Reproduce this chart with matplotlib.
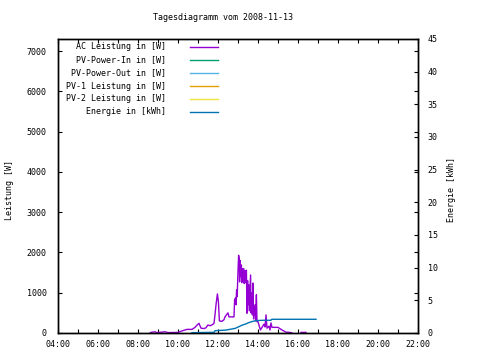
import numpy as np
import matplotlib
matplotlib.use("Agg")
import matplotlib.pyplot as plt

# AC power [W] over the day (hours); NaN marks a gap in the data
ac_time = [8.6, 8.65, 8.85, 8.95, 9.35, 9.5, 10.0, 10.25, 10.45, 10.7, 10.85, 11.0,
           11.05, 11.15, 11.3, 11.4, 11.5, 11.6, 11.7, 11.8, 11.85, 11.9, 11.97, 12.02,
           12.07, 12.2, 12.3, 12.35, 12.45, 12.5, 12.55, 12.8, 12.83, 12.85, 12.87, 12.9,
           12.93, 12.96, 12.99, 13.03, 13.06, 13.08, 13.1, 13.13, 13.17, 13.19, 13.22, 13.25,
           13.28, 13.31, 13.35, 13.38, 13.42, 13.45, 13.48, 13.5, 13.53, 13.56, 13.63, 13.65,
           13.68, 13.72, 13.75, 13.78, 13.85, 13.88, 13.92, 13.95, 14.0, 14.12, 14.2, 14.3,
           14.35, 14.4, 14.45, 14.55, 14.6, 14.65, 14.7, 15.0, 15.2, 15.4, 15.6, 15.7,
           15.9, 16.15, 16.4]
ac_power = [0, 15, 30, 10, 30, 10, 15, 60, 90, 90, 140, 220,
            240, 120, 110, 130, 200, 180, 200, 240, 450, 700, 970, 780,
            300, 290, 330, 400, 470, 500, 400, 400, 820, 720, 870, 700,
            1070, 900, 1400, 1930, 1850, 1270, 1800, 1400, 1690, 1250, 1600, 1300,
            1600, 1230, 1550, 1250, 1560, 490, 1300, 700, 1200, 550, 1440, 500,
            1000, 450, 1240, 350, 700, 300, 950, 280, 280, 75, 140, 220,
            150, 450, 120, 170, 75, 250, 140, 140, 75, 20, 15, 0,
            np.nan, 15, 15]

# Energy [kWh]
en_time = [10.7, 11.8, 11.85, 12.4, 12.85, 13.0, 13.2, 13.4, 13.55, 13.7, 13.9,
           14.3, 14.65, 14.68, 16.9]
en_kwh = [0.05, 0.1, 0.35, 0.45, 0.7, 0.9, 1.2, 1.4, 1.6, 1.75, 1.9,
          1.95, 1.95, 2.1, 2.1]

legend_labels = ["AC Leistung in [W]", "PV-Power-In in [W]", "PV-Power-Out in [W]",
                 "PV-1 Leistung in [W]", "PV-2 Leistung in [W]", "Energie in [kWh]"]
legend_colors = ["#9400d3", "#009e73", "#56b4e9", "#e69f00", "#f0e442", "#0072b2"]

x_ticks = list(range(4, 23, 2))
x_labels = [f"{h:02d}:00" for h in x_ticks]

plt.rcParams["font.family"] = "DejaVu Sans Mono"
plt.rcParams["font.size"] = 6

fig = plt.figure(figsize=(4.8, 3.6), dpi=100)
ax = fig.add_axes([58 / 480, 1 - 333 / 360, 360 / 480, 294 / 360])
ax2 = ax.twinx()

ax.plot(ac_time, ac_power, color=legend_colors[0], lw=1.0)
ax2.plot(en_time, en_kwh, color=legend_colors[5], lw=1.0)

ax.set_xlim(4, 22)
ax.set_ylim(0, 7300)
ax2.set_ylim(0, 45)
ax.set_xticks(x_ticks)
ax.set_xticklabels(x_labels)
ax.set_xticks(range(5, 22, 2), minor=True)
ax.set_yticks(range(0, 7001, 1000))
ax2.set_yticks(range(0, 46, 5))

ax.tick_params(axis="both", which="both", direction="in", top=True, right=True,
               length=3, width=0.8, labelright=False)
ax.tick_params(axis="y", pad=8)
ax.tick_params(axis="x", pad=5)
ax2.tick_params(axis="y", direction="in", length=3, width=0.8, pad=7)
for a in (ax, ax2):
    for s in a.spines.values():
        s.set_linewidth(1.0)

# legend drawn by hand: right-aligned text, sample line on the right
ys = [0.973, 0.929, 0.884, 0.840, 0.796, 0.752]
for lab, col, y in zip(legend_labels, legend_colors, ys):
    ax.text(0.30, y, lab, transform=ax.transAxes, ha="right", va="center")
    ax.plot([0.367, 0.444], [y, y], color=col, lw=1.0, transform=ax.transAxes)

fig.text(223 / 480, 1 - 18 / 360, "Tagesdiagramm vom 2008-11-13", ha="center", va="center")
fig.text(10 / 480, 1 - 190 / 360, "Leistung [W]", rotation=90, ha="center", va="center")
fig.text(452 / 480, 1 - 190 / 360, "Energie [kWh]", rotation=90, ha="center", va="center")

fig.savefig("out.png", dpi=100)
